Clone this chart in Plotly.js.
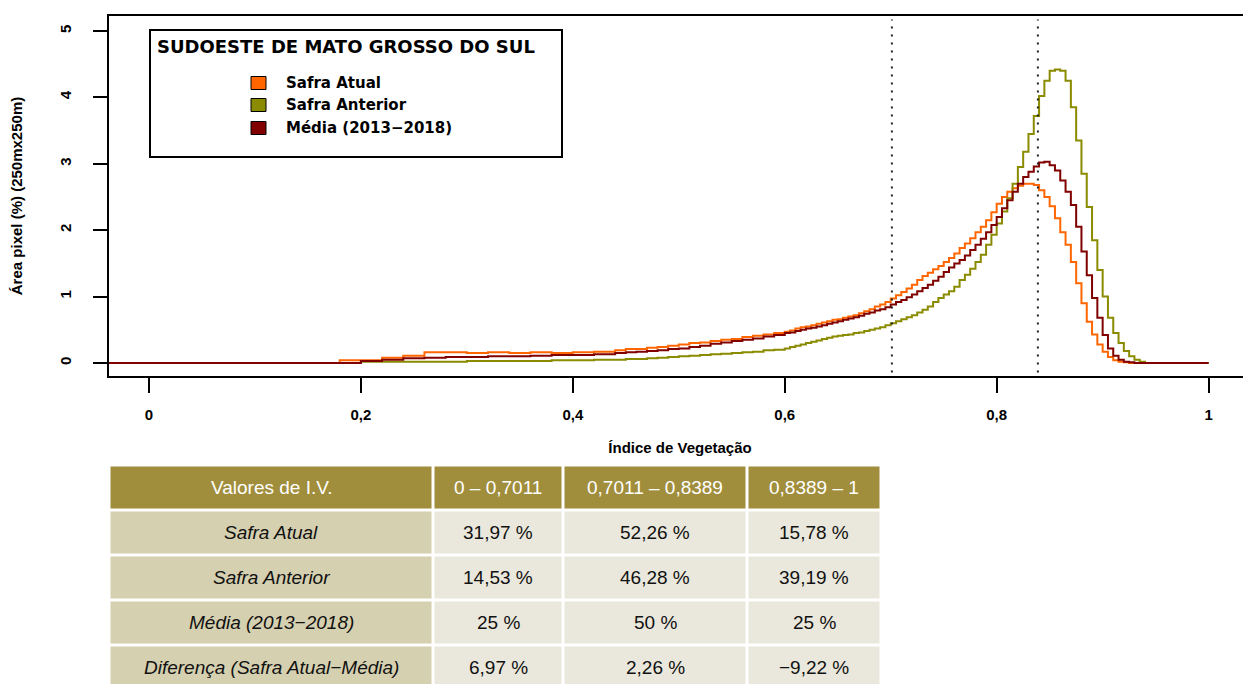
<!DOCTYPE html>
<html>
<head>
<meta charset="utf-8">
<script src="https://cdn.plot.ly/plotly-3.0.1.min.js"></script>
<style>
  html, body { margin: 0; padding: 0; overflow: hidden; background: #fff; }
  #chart { width: 1260px; height: 700px; }
</style>
</head>
<body>
<div id="chart"></div>
<script>
// ---------- DATA ----------
const indiceVeg = [
  -0.05, 0.18,
  0.20, 0.22, 0.24, 0.26, 0.28, 0.30, 0.32, 0.34, 0.36, 0.38, 0.40, 0.42, 0.44,
  0.45, 0.46, 0.47, 0.48, 0.49, 0.50, 0.51, 0.52, 0.53, 0.54, 0.55, 0.56, 0.57, 0.58, 0.59, 0.60,
  0.605, 0.61, 0.615, 0.62, 0.625, 0.63, 0.635, 0.64, 0.645, 0.65,
  0.655, 0.66, 0.665, 0.67, 0.675, 0.68, 0.685, 0.69, 0.695, 0.70,
  0.705, 0.71, 0.715, 0.72, 0.725, 0.73, 0.735, 0.74, 0.745, 0.75,
  0.755, 0.76, 0.765, 0.77, 0.775, 0.78, 0.785, 0.79, 0.795, 0.80,
  0.805, 0.81, 0.815, 0.82, 0.825, 0.83, 0.835, 0.84, 0.845, 0.85,
  0.855, 0.86, 0.865, 0.87, 0.875, 0.88, 0.885, 0.89, 0.895, 0.90,
  0.905, 0.91, 0.915, 0.92, 0.925, 0.93, 0.935, 0.94, 0.945, 0.95,
  0.96, 1.0
];

const safraAtual = [
  0, 0.04,
  0.04, 0.08, 0.11, 0.16, 0.16, 0.15, 0.16, 0.15, 0.16, 0.15, 0.16, 0.17, 0.19,
  0.21, 0.21, 0.23, 0.24, 0.26, 0.28, 0.30, 0.31, 0.33, 0.35, 0.36, 0.39, 0.41, 0.43, 0.45, 0.47,
  0.49, 0.52, 0.54, 0.55, 0.57, 0.59, 0.61, 0.63, 0.65, 0.66,
  0.68, 0.70, 0.72, 0.75, 0.78, 0.81, 0.85, 0.88, 0.92, 0.97,
  1.02, 1.07, 1.12, 1.18, 1.25, 1.31, 1.36, 1.41, 1.46, 1.52,
  1.58, 1.65, 1.73, 1.80, 1.88, 1.97, 2.05, 2.15, 2.27, 2.40,
  2.50, 2.58, 2.63, 2.67, 2.70, 2.70, 2.68, 2.60, 2.50, 2.36,
  2.18, 1.97, 1.78, 1.52, 1.20, 0.90, 0.62, 0.43, 0.28, 0.17,
  0.09, 0.04, 0.02, 0.01, 0, 0, 0, 0, 0, 0,
  0, 0
];

const safraAnterior = [
  0, 0,
  0.02, 0.02, 0.02, 0.02, 0.02, 0.03, 0.03, 0.03, 0.03, 0.04, 0.04, 0.05, 0.05,
  0.06, 0.06, 0.07, 0.08, 0.09, 0.10, 0.11, 0.12, 0.13, 0.14, 0.15, 0.16, 0.17, 0.19, 0.20, 0.22,
  0.24, 0.26, 0.28, 0.30, 0.32, 0.34, 0.36, 0.38, 0.40, 0.41,
  0.42, 0.43, 0.45, 0.46, 0.48, 0.50, 0.52, 0.54, 0.57, 0.60,
  0.63, 0.66, 0.69, 0.72, 0.76, 0.80, 0.85, 0.92, 0.98, 1.03,
  1.08, 1.15, 1.25, 1.33, 1.42, 1.52, 1.63, 1.78, 1.93, 2.10,
  2.28, 2.48, 2.70, 2.95, 3.18, 3.45, 3.72, 4.02, 4.25, 4.40,
  4.42, 4.40, 4.25, 3.85, 3.35, 2.85, 2.35, 1.85, 1.40, 1.00,
  0.68, 0.45, 0.30, 0.18, 0.10, 0.05, 0.02, 0, 0, 0,
  0, 0
];

const media = [
  0, 0,
  0.03, 0.05, 0.07, 0.08, 0.09, 0.09, 0.10, 0.10, 0.11, 0.12, 0.12, 0.13, 0.15,
  0.16, 0.17, 0.18, 0.19, 0.21, 0.22, 0.24, 0.26, 0.29, 0.31, 0.33, 0.35, 0.37, 0.40, 0.42, 0.45,
  0.46, 0.48, 0.50, 0.52, 0.53, 0.55, 0.57, 0.59, 0.61, 0.63,
  0.65, 0.67, 0.69, 0.71, 0.74, 0.76, 0.79, 0.81, 0.84, 0.88,
  0.92, 0.95, 0.99, 1.03, 1.08, 1.13, 1.18, 1.24, 1.30, 1.37,
  1.44, 1.50, 1.55, 1.62, 1.70, 1.78, 1.87, 1.97, 2.08, 2.20,
  2.33, 2.45, 2.58, 2.70, 2.80, 2.88, 2.96, 3.02, 3.03, 2.98,
  2.90, 2.75, 2.58, 2.38, 2.05, 1.68, 1.32, 0.98, 0.68, 0.42,
  0.22, 0.11, 0.05, 0.02, 0.01, 0, 0, 0, 0, 0,
  0, 0
];

const serieNomes = ["Safra Atual", "Safra Anterior", "Média (2013−2018)"];
const serieCores = ["#FF6600", "#8B8B00", "#800000"];
const legendaTitulo = "SUDOESTE DE MATO GROSSO DO SUL";

const limitesIV = [0.7011, 0.8389];

const xTickVals = [0, 0.2, 0.4, 0.6, 0.8, 1];
const xTickText = ["0", "0,2", "0,4", "0,6", "0,8", "1"];
const yTickVals = [0, 1, 2, 3, 4, 5];
const yTickText = ["0", "1", "2", "3", "4", "5"];

const xTitulo = "Índice de Vegetação";
const yTitulo = "Área pixel (%) (250mx250m)";

// table
const tabelaCabecalho = ["Valores de I.V.", "0 – 0,7011", "0,7011 – 0,8389", "0,8389 – 1"];
const tabelaLinhas = ["Safra Atual", "Safra Anterior", "Média (2013−2018)", "Diferença (Safra Atual−Média)"];
const faixa1 = ["31,97 %", "14,53 %", "25 %", "6,97 %"];
const faixa2 = ["52,26 %", "46,28 %", "50 %", "2,26 %"];
const faixa3 = ["15,78 %", "39,19 %", "25 %", "−9,22 %"];

// ---------- LAYOUT HELPERS ----------
const W = 1260, H = 700;
const M = { l: 109, r: 9, t: 16, b: 0 };
const pw = W - M.l - M.r, ph = H - M.t - M.b;
const px = x => (x - M.l) / pw;
const py = y => (H - M.b - y) / ph;

const boldFont = "Liberation Sans, Arial, sans-serif";
const tableFont = "Liberation Sans, Arial, sans-serif";

// ---------- TRACES ----------
const series = [safraAtual, safraAnterior, media];
const traces = series.map((s, i) => ({
  type: "scatter",
  mode: "lines",
  x: indiceVeg,
  y: s,
  name: serieNomes[i],
  line: { color: serieCores[i], width: 2, shape: "hv" },
  showlegend: false,
  hoverinfo: "skip"
}));

// ---------- SHAPES & ANNOTATIONS ----------
const shapes = limitesIV.map(v => ({
  type: "line", xref: "x", yref: "y domain",
  x0: v, x1: v, y0: 0.01, y1: 0.99,
  line: { color: "#222222", width: 2, dash: "2px,6px" }
}));
const annotations = [];

// legend box
shapes.push({
  type: "rect", xref: "paper", yref: "paper",
  x0: px(150), x1: px(562), y0: py(157), y1: py(30),
  line: { color: "#000000", width: 2 }, fillcolor: "#FFFFFF", layer: "above"
});
annotations.push({
  xref: "paper", yref: "paper", x: px(155), y: py(47),
  xanchor: "left", yanchor: "middle", showarrow: false,
  text: legendaTitulo,
  font: { family: "DejaVu Sans, sans-serif", size: 18, weight: "bold", color: "#000" }
});
const legY = [83, 105, 128];
serieNomes.forEach((n, i) => {
  shapes.push({
    type: "rect", xref: "paper", yref: "paper",
    x0: px(251), x1: px(266), y0: py(legY[i] + 6.5), y1: py(legY[i] - 6.5),
    line: { color: "#000000", width: 1 }, fillcolor: serieCores[i], layer: "above"
  });
  annotations.push({
    xref: "paper", yref: "paper", x: px(284), y: py(legY[i]),
    xanchor: "left", yanchor: "middle", showarrow: false,
    text: n,
    font: { family: "DejaVu Sans, sans-serif", size: 15, weight: "bold", color: "#000" }
  });
});

// table (built from the table arrays)
const colEdges = [109, 433, 563, 747, 881];
const rowTop = 465, rowH = 45, gap = 1.5;
const tabelaCorpo = [tabelaLinhas.map(s => "<i>" + s + "</i>"), faixa1, faixa2, faixa3];
const nRows = 1 + tabelaLinhas.length;
for (let r = 0; r < nRows; r++) {
  for (let c = 0; c < 4; c++) {
    const x0 = colEdges[c] + gap, x1 = colEdges[c + 1] - gap;
    const y0 = rowTop + r * rowH + gap, y1 = rowTop + (r + 1) * rowH - gap;
    let fill = r === 0 ? "#A08E3C" : (c === 0 ? "#D5D0B0" : "#EAE8DC");
    shapes.push({
      type: "rect", xref: "paper", yref: "paper",
      x0: px(x0), x1: px(x1), y0: py(y1), y1: py(y0),
      line: { width: 0 }, fillcolor: fill
    });
    const txt = r === 0 ? tabelaCabecalho[c] : tabelaCorpo[c][r - 1];
    annotations.push({
      xref: "paper", yref: "paper",
      x: px((colEdges[c] + colEdges[c + 1]) / 2), y: py(rowTop + r * rowH + rowH / 2),
      xanchor: "center", yanchor: "middle", showarrow: false,
      text: txt,
      font: { family: tableFont, size: 19, color: r === 0 ? "#FFFFFF" : "#111111" }
    });
  }
}

const layout = {
  width: W, height: H,
  margin: M,
  paper_bgcolor: "#FFFFFF",
  plot_bgcolor: "#FFFFFF",
  showlegend: false,
  xaxis: {
    range: [-0.0377, 1.04],
    domain: [0, 1],
    anchor: "y",
    tickmode: "array", tickvals: xTickVals, ticktext: xTickText,
    ticks: "outside", ticklen: 15, tickwidth: 2, tickcolor: "#000",
    ticklabelstandoff: 9,
    tickfont: { family: boldFont, size: 15, weight: "bold", color: "#000" },
    showline: true, linecolor: "#000", linewidth: 2, mirror: true,
    showgrid: false, zeroline: false,
    title: { text: xTitulo, standoff: 20, font: { family: boldFont, size: 15, weight: "bold", color: "#000" } }
  },
  yaxis: {
    range: [-0.196, 5.226],
    domain: [py(376), 1],
    anchor: "x",
    tickmode: "array", tickvals: yTickVals, ticktext: yTickText,
    tickangle: -90,
    ticks: "outside", ticklen: 14, tickwidth: 2, tickcolor: "#000",
    ticklabelstandoff: 16,
    tickfont: { family: boldFont, size: 15, weight: "bold", color: "#000" },
    showline: true, linecolor: "#000", linewidth: 2, mirror: true,
    showgrid: false, zeroline: false,
    title: { text: yTitulo, standoff: 31, font: { family: boldFont, size: 15, weight: "bold", color: "#000" } }
  },
  shapes: shapes,
  annotations: annotations
};

Plotly.newPlot("chart", traces, layout, { displayModeBar: false, staticPlot: true });
</script>
</body>
</html>
